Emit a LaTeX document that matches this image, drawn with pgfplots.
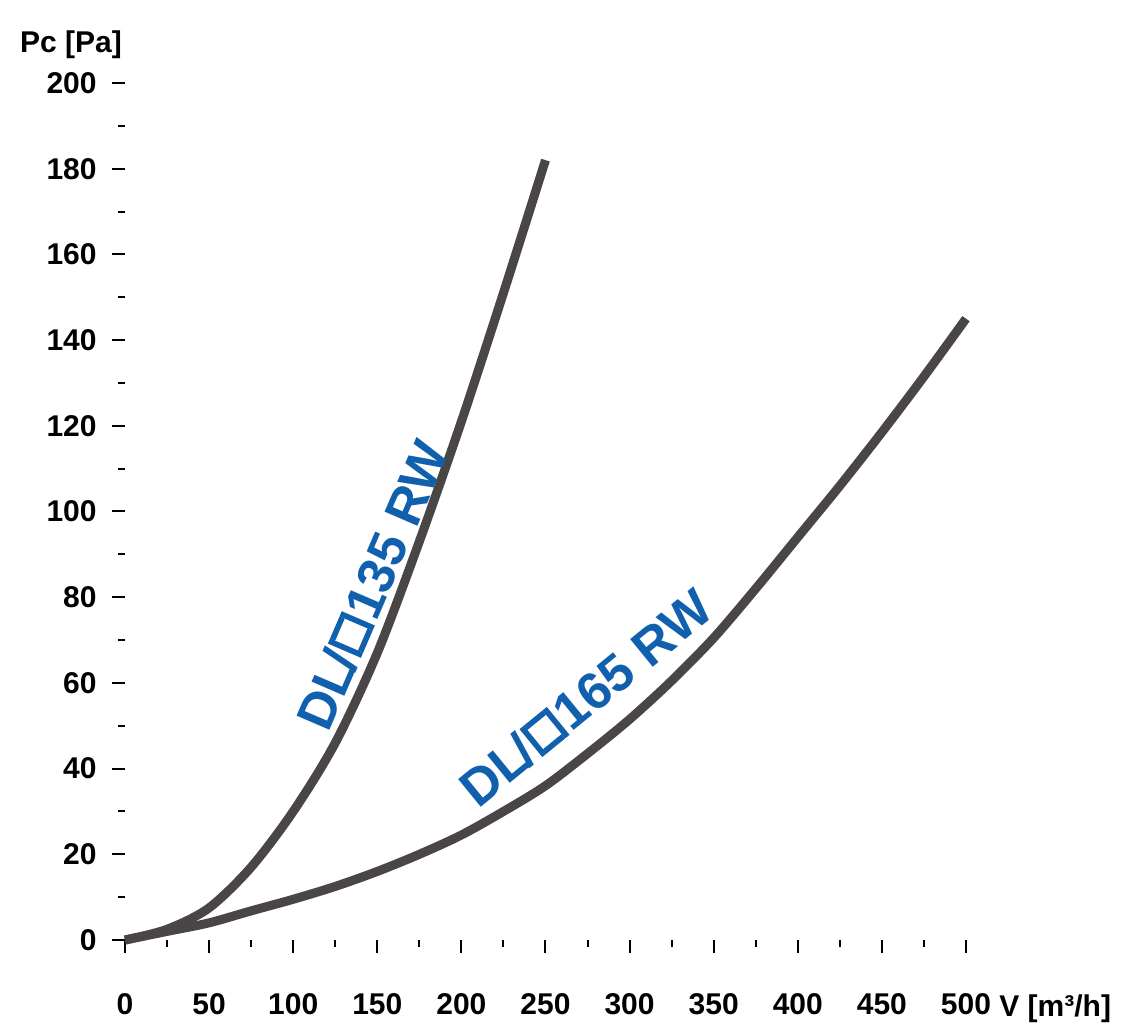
\documentclass[border=0pt]{standalone}
\usepackage{pgfplots}
\pgfplotsset{compat=1.18}
\usepackage{fontspec}
\setmainfont{Liberation Sans}
\definecolor{curvegray}{HTML}{4A4646}
\definecolor{lblblue}{HTML}{1160AE}
\newcommand\sq{\hspace{1.5pt}\rule{2.8pt}{18pt}\rlap{\rule{12pt}{2.8pt}}\raisebox{15.2pt}{\rule{12pt}{2.8pt}}\rule{2.8pt}{18pt}\hspace{1.5pt}}
\begin{document}
\begin{tikzpicture}
\useasboundingbox (-62.5pt,-43pt) rectangle (502.5pt,470pt);
\begin{axis}[
  at={(0pt,0pt)}, anchor=origin,
  width=420.5pt, height=428.5pt, scale only axis,
  xmin=0, xmax=500, ymin=0, ymax=200,
  clip=false,
  axis lines*=left,
  axis line style={draw=none},
  xtick distance=50, ytick distance=20,
  minor x tick num=1, minor y tick num=1,
  tick align=outside,
  major tick length=6.5pt, minor tick length=3.5pt,
  major tick style={black, line width=1pt},
  minor tick style={black, line width=1pt},
  /pgf/number format/assume math mode=true,
  ticklabel style={font=\bfseries\fontsize{15}{15}\selectfont},
  yticklabel style={anchor=east, inner sep=0pt, xshift=-7.5pt},
  xticklabel style={anchor=north, inner sep=0pt, yshift=-20pt},
]
\addplot[curvegray, line width=4.5pt, line join=round, line cap=butt, smooth] coordinates {
(0,0) (25,2.5) (50,7.5) (75,17) (100,30) (125,46) (150,67) (175,93) (200,121) (225,151) (250,182)
};
\addplot[curvegray, line width=4.5pt, line join=round, line cap=butt, smooth] coordinates {
(0,0) (25,2) (50,4) (75,6.8) (100,9.5) (125,12.5) (150,16) (175,20) (200,24.5) (225,30) (250,36) (275,43.5) (300,51.5) (325,60.5) (350,70.5) (375,82) (400,94) (425,106) (450,118.5) (475,131.5) (500,145)
};
\node[lblblue, rotate=66.7, font=\bfseries\fontsize{26}{26}\selectfont] at (axis cs:147,82.8) {DL\kern-2pt/\sq135 RW};
\node[lblblue, rotate=39.2, font=\bfseries\fontsize{26}{26}\selectfont] at (axis cs:274,56.5) {DL\kern-2pt/\sq165 RW};
\end{axis}
\node[anchor=base west, inner sep=0pt, font=\bfseries\fontsize{15}{15}\selectfont] at (437pt,-38.5pt) {V [m³/h]};
\node[anchor=center, inner sep=0pt, font=\bfseries\fontsize{15}{15}\selectfont] at (-27pt,447.5pt) {Pc [Pa]};
\end{tikzpicture}
\end{document}
